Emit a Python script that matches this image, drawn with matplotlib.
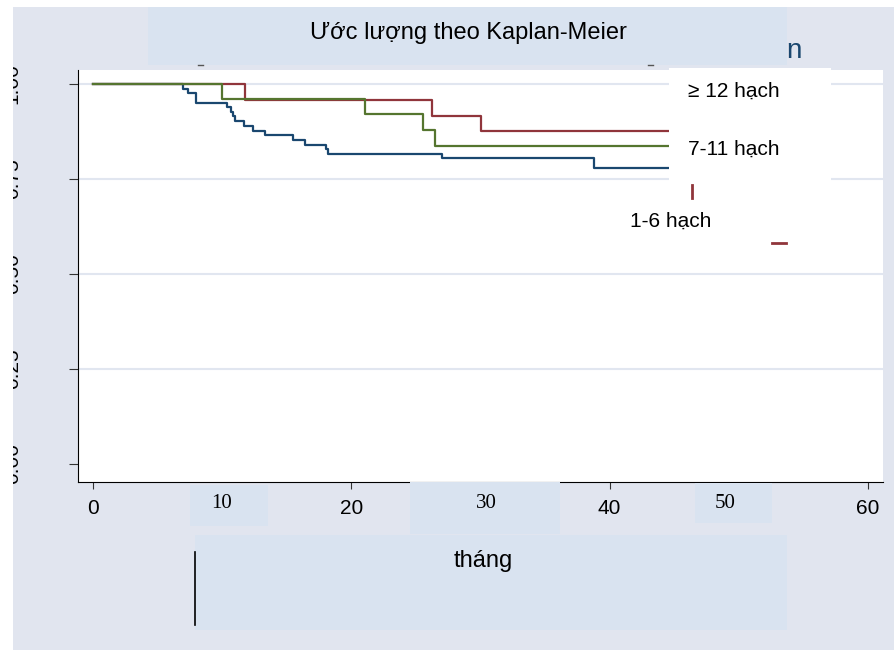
import matplotlib
matplotlib.use("Agg")
import matplotlib.pyplot as plt
from matplotlib.patches import Rectangle
from matplotlib.lines import Line2D

plt.rcParams['font.family'] = ['Liberation Sans', 'DejaVu Sans']

# Kaplan-Meier step data (months, survival)
t_blue = [0, 7.0, 7.35, 8.0, 10.4, 10.7, 10.85, 11.0, 11.7, 12.4, 13.3, 15.45, 16.4, 18.0, 18.2, 27.0, 38.8, 55]
s_blue = [1, .988, .975, .951, .939, .927, .915, .902, .890, .877, .865, .853, .840, .828, .816, .804, .779, .779]
t_green = [0, 10.0, 21.05, 25.55, 26.5, 55]
s_green = [1, .960, .921, .879, .838, .838]
t_red = [0, 11.8, 26.25, 30.05, 55]
s_red = [1, .959, .917, .876, .876]

xticks = [0, 20, 40, 60]
yticks = [0, .25, .5, .75, 1]
ytick_labels = ["0.00", "0.25", "0.50", "0.75", "1.00"]
grid_y = [.25, .5, .75, 1]
legend_labels = ["\u2265 12 h\u1ea1ch", "7-11 h\u1ea1ch", "1-6 h\u1ea1ch"]
title = "\u01af\u1edbc l\u01b0\u1ee3ng theo Kaplan-Meier"
xlabel = "th\u00e1ng"
extra_ticks = ["10", "30", "50"]

NAVY, MAROON, GREEN = "#1a476f", "#90353b", "#55752f"
BG = "#e1e5ef"
BOX = "#d9e3f0"

W, H = 894, 650
fig = plt.figure(figsize=(W / 100, H / 100), dpi=100, facecolor=BG)


def rect(x0, y0, x1, y1, color, z=1):
    # pixel coords, origin top-left
    fig.patches.append(Rectangle((x0 / W, 1 - y1 / H), (x1 - x0) / W, (y1 - y0) / H,
                                 transform=fig.transFigure, facecolor=color,
                                 edgecolor="none", zorder=z))


def line(x0, y0, x1, y1, color, lw=1.0, z=2):
    fig.lines.append(Line2D([x0 / W, x1 / W], [1 - y0 / H, 1 - y1 / H],
                            transform=fig.transFigure, color=color, lw=lw, zorder=z))


def text(x, y, s, size=15, z=3, va="center", **kw):
    fig.text(x / W, 1 - y / H, s, fontsize=size, zorder=z, va=va, **kw)


ax = fig.add_axes([78 / W, 1 - 482 / H, 805 / W, 412 / H])
ax.set_facecolor("white")
for yv in grid_y:
    ax.axhline(yv, color="#e1e6f0", lw=1.5, zorder=1)

ax.step(t_blue, s_blue, where="post", color=NAVY, lw=1.6, zorder=3)
ax.step(t_red, s_red, where="post", color=MAROON, lw=1.6, zorder=3)
ax.step(t_green, s_green, where="post", color=GREEN, lw=1.6, zorder=3)

ax.set_xlim(-1.161, 61.16)
ax.set_ylim(-0.0474, 1.0368)
ax.spines[["top", "right"]].set_visible(False)
ax.spines["left"].set_color("black")
ax.spines["bottom"].set_color("black")
ax.set_xticks(xticks)
ax.set_xticklabels([str(v) for v in xticks], fontsize=15)
ax.set_yticks(yticks)
ax.set_yticklabels(ytick_labels, fontsize=15, rotation=90, va="center")
ax.tick_params(axis="x", length=5, color="#333333", pad=7)
ax.tick_params(axis="y", length=6.5, color="#333333", pad=34)

# white margins (cover the cut y tick labels)
rect(0, 0, W, 7, "white", z=5)
rect(0, 0, 13, H, "white", z=5)

# title box
text(786, 58, "n", size=20, z=0.5, va="baseline", color=NAVY, ha="left")
rect(148, 7, 787, 65, BOX)
text(468, 33, title, size=17, ha="center")
line(198, 65, 203, 65, "#555555", lw=1)
line(648, 65, 653, 65, "#555555", lw=1)

# legend overlay
rect(669, 68, 831, 181, "white")
text(688, 91, legend_labels[0])
text(688, 149, legend_labels[1])
text(630, 221, legend_labels[2])
line(692, 185, 692, 198, MAROON, lw=2)
line(772, 243, 786, 243, MAROON, lw=2)

# x tick overlays
rect(190, 485, 268, 526, BOX)
rect(410, 482, 560, 534, BOX)
rect(695, 483, 772, 523, BOX)
for xp, s in zip([222, 486, 725], extra_ticks):
    text(xp, 504, s, size=15, family="Liberation Serif", ha="center")

# x label box
rect(195, 535, 787, 630, BOX)
line(195, 552, 195, 625, "black", lw=1.2)
text(483, 561, xlabel, size=17, ha="center")

fig.savefig("out.png", dpi=100, facecolor=BG)
